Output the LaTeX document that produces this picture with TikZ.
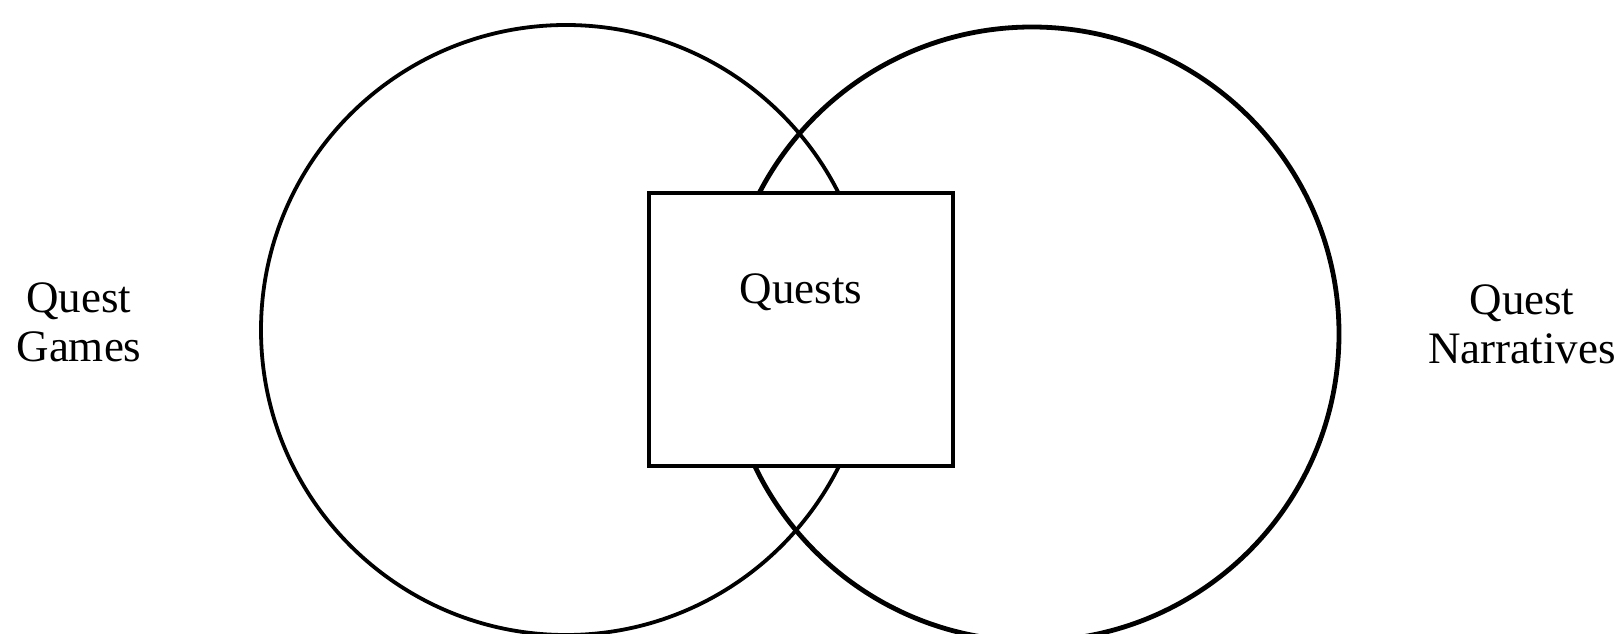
\documentclass[tikz,border=0pt]{standalone}
\usepackage{fontspec}
\setmainfont{Liberation Serif}
\begin{document}
\begin{tikzpicture}[x=1pt,y=-1pt,
  ring/.style={circle,draw=black,inner sep=0pt,outer sep=0pt},
  labeltext/.style={inner sep=0pt,align=center,font=\fontsize{45}{49}\selectfont},
  boxstyle/.style={draw=black,fill=white,line width=3.6pt,inner sep=0pt,minimum width=304pt,minimum height=273pt}]
\useasboundingbox[fill=white] (0,0) rectangle (1620,634);
\node[ring,line width=3.8pt,minimum size=610pt] (games) at (566,330) {};
\node[ring,line width=4.8pt,minimum size=614pt] (narr) at (1032,334) {};
\node[boxstyle] (box) at (801,329.5) {};
\node[labeltext,anchor=base] (quests) at (801,303) {Quests};
\node[labeltext] (qg) at (79,322) {Quest\\Games};
\node[labeltext] (qn) at (1522,324) {Quest\\Narratives};
\end{tikzpicture}
\end{document}
